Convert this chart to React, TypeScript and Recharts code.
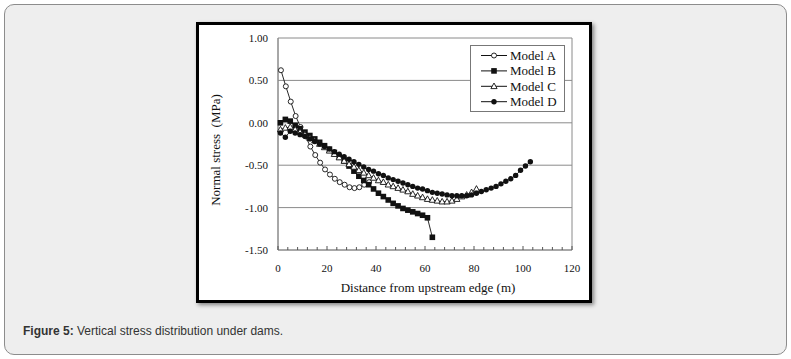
import { LineChart, Line, XAxis, YAxis, CartesianGrid } from "recharts";

// Model A (open circles)
const modelAX = [1.2, 3.2, 5.2, 7.2, 9.2, 11.2, 13.2, 15.2, 17.2, 19.2, 21.2, 23.2, 25.2, 27.2, 29.2, 31.2, 33.2, 35.2, 37.2];
const modelAY = [0.62, 0.43, 0.25, 0.08, -0.05, -0.16, -0.28, -0.38, -0.47, -0.55, -0.61, -0.66, -0.7, -0.73, -0.76, -0.77, -0.76, -0.73, -0.7];

// Model B (filled squares)
const modelBX = [1, 3, 5, 7, 9, 11, 13, 15, 17, 19, 21, 23, 25, 27, 29, 31, 33, 35, 37, 39, 41, 43, 45, 47, 49, 51, 53, 55, 57, 59, 61, 63];
const modelBY = [0.0, 0.04, 0.02, -0.03, -0.07, -0.11, -0.15, -0.19, -0.23, -0.27, -0.31, -0.35, -0.4, -0.45, -0.51, -0.57, -0.63, -0.68, -0.73, -0.78, -0.83, -0.87, -0.91, -0.95, -0.98, -1.01, -1.03, -1.05, -1.07, -1.09, -1.12, -1.35];

// Model C (open triangles)
const modelCX = [1, 3, 5, 7, 9, 11, 13, 15, 17, 19, 21, 23, 25, 27, 29, 31, 33, 35, 37, 39, 41, 43, 45, 47, 49, 51, 53, 55, 57, 59, 61, 63, 65, 67, 69, 71, 73, 75, 77, 79, 81];
const modelCY = [-0.08, -0.06, -0.05, -0.08, -0.11, -0.14, -0.18, -0.21, -0.25, -0.29, -0.33, -0.37, -0.41, -0.45, -0.49, -0.52, -0.56, -0.59, -0.62, -0.65, -0.68, -0.7, -0.73, -0.75, -0.77, -0.79, -0.81, -0.84, -0.86, -0.88, -0.9, -0.91, -0.92, -0.93, -0.93, -0.92, -0.9, -0.87, -0.85, -0.82, -0.78];

// Model D (filled circles)
const modelDX = [1, 3, 5, 7, 9, 11, 13, 15, 17, 19, 21, 23, 25, 27, 29, 31, 33, 35, 37, 39, 41, 43, 45, 47, 49, 51, 53, 55, 57, 59, 61, 63, 65, 67, 69, 71, 73, 75, 77, 79, 81, 83, 85, 87, 89, 91, 93, 95, 97, 99, 101, 103];
const modelDY = [-0.12, -0.17, -0.1, -0.12, -0.14, -0.16, -0.19, -0.22, -0.25, -0.28, -0.31, -0.34, -0.37, -0.4, -0.43, -0.46, -0.49, -0.52, -0.55, -0.57, -0.6, -0.62, -0.65, -0.67, -0.69, -0.71, -0.73, -0.75, -0.77, -0.78, -0.8, -0.82, -0.83, -0.84, -0.85, -0.86, -0.86, -0.86, -0.86, -0.85, -0.83, -0.81, -0.79, -0.77, -0.75, -0.72, -0.69, -0.66, -0.62, -0.56, -0.51, -0.46];

const xTicks = [0, 4, 8, 12, 16, 20, 24, 28, 32, 36, 40, 44, 48, 52, 56, 60, 64, 68, 72, 76, 80, 84, 88, 92, 96, 100, 104, 108, 112, 116, 120];
const xLabelTicks = [0, 20, 40, 60, 80, 100, 120];
const yTicks = [-1.5, -1.0, -0.5, 0.0, 0.5, 1.0];

const seriesNames = ["Model A", "Model B", "Model C", "Model D"];

const toPoints = (xs: number[], ys: number[]) => xs.map((x, i) => ({ x, y: ys[i] }));

const dataA = toPoints(modelAX, modelAY);
const dataB = toPoints(modelBX, modelBY);
const dataC = toPoints(modelCX, modelCY);
const dataD = toPoints(modelDX, modelDY);

const SERIF = "'Liberation Serif', 'Times New Roman', serif";
const INK = "#111";
const GRID = "#8a8a8a";

type Shape = "circleOpen" | "square" | "triangleOpen" | "circleFilled";

function Marker({ shape, cx, cy }: { shape: Shape; cx: number; cy: number }) {
  if (shape === "circleOpen") return <circle cx={cx} cy={cy} r={2.5} fill="#fff" stroke={INK} strokeWidth={0.9} />;
  if (shape === "circleFilled") return <circle cx={cx} cy={cy} r={2.7} fill={INK} />;
  if (shape === "square") return <rect x={cx - 2.8} y={cy - 2.8} width={5.6} height={5.6} fill={INK} />;
  return (
    <polygon
      points={`${cx},${cy - 3.3} ${cx - 3.1},${cy + 2.3} ${cx + 3.1},${cy + 2.3}`}
      fill="#fff"
      stroke={INK}
      strokeWidth={0.9}
    />
  );
}

const dotFor = (shape: Shape) => (props: any) => {
  const { cx, cy, index } = props;
  if (cx == null || cy == null) return <g key={`e-${shape}-${index}`} />;
  return (
    <g key={`${shape}-${index}`}>
      <Marker shape={shape} cx={cx} cy={cy} />
    </g>
  );
};

function XTick({ x, y, payload }: any) {
  const v = payload.value as number;
  const major = xLabelTicks.includes(v);
  return (
    <g>
      <line x1={x} x2={x} y1={y} y2={y - (major ? 4 : 3)} stroke="#555" strokeWidth={1} />
      {major && (
        <text x={x} y={y + 22} textAnchor="middle" fontFamily={SERIF} fontSize={11} fill={INK}>
          {v}
        </text>
      )}
    </g>
  );
}

const shapes: Shape[] = ["circleOpen", "square", "triangleOpen", "circleFilled"];

function LegendBox() {
  return (
    <svg width={95} height={67} style={{ display: "block" }}>
      <rect x={0.5} y={0.5} width={94} height={66} fill="#fff" stroke="#777" strokeWidth={1} />
      {seriesNames.map((name, i) => {
        const cy = 10.5 + i * 15.4;
        return (
          <g key={name}>
            <line x1={11} x2={37} y1={cy} y2={cy} stroke={INK} strokeWidth={1} />
            <Marker shape={shapes[i]} cx={24} cy={cy} />
            <text x={40} y={cy + 4.3} fontFamily={SERIF} fontSize={13} fill={INK}>
              {name}
            </text>
          </g>
        );
      })}
    </svg>
  );
}

export default function App() {
  return (
    <div style={{ position: "fixed", left: 0, top: 0, width: 791, height: 359, background: "#fff" }}>
      <div
        style={{
          position: "absolute",
          left: 4,
          top: 4,
          width: 781,
          height: 349,
          background: "#eeeeee",
          border: "1px solid #8c8c8c",
          borderRadius: 10,
        }}
      />
      <div
        style={{
          position: "absolute",
          left: 196,
          top: 22,
          width: 390,
          height: 275,
          background: "#fff",
          border: "3px solid #000",
          boxShadow: "2px 2px 4px rgba(0,0,0,0.45)",
        }}
      />
      <div style={{ position: "absolute", left: 196, top: 22 }}>
        <LineChart width={396} height={281} margin={{ top: 16, right: 20, bottom: 0, left: 0 }}>
          <CartesianGrid
            horizontal
            vertical
            stroke={GRID}
            strokeWidth={1}
            horizontalValues={yTicks}
            verticalCoordinatesGenerator={({ offset }: any) => [offset.left, offset.left + offset.width]}
          />
          <XAxis
            type="number"
            dataKey="x"
            domain={[0, 120]}
            ticks={xTicks}
            interval={0}
            height={53}
            tickSize={0}
            tickMargin={0}
            tickLine={false}
            axisLine={{ stroke: GRID }}
            tick={<XTick />}
            allowDuplicatedCategory={false}
            label={{
              content: ({ viewBox }: any) => (
                <text
                  x={viewBox.x + viewBox.width / 2 + 3}
                  y={viewBox.y + 42}
                  textAnchor="middle"
                  fontFamily={SERIF}
                  fontSize={13}
                  fill={INK}
                >
                  Distance from upstream edge (m)
                </text>
              ),
            }}
          />
          <YAxis
            type="number"
            domain={[-1.5, 1.0]}
            ticks={yTicks}
            interval={0}
            width={82}
            tickSize={8}
            tickMargin={2}
            tickLine={false}
            axisLine={{ stroke: GRID }}
            tickFormatter={(v: number) => v.toFixed(2)}
            tick={{ fontFamily: SERIF, fontSize: 11, fill: INK }}
            label={{
              content: ({ viewBox }: any) => {
                const cx = viewBox.x + 19;
                const cy = viewBox.y + viewBox.height / 2 + 6;
                return (
                  <text
                    x={cx}
                    y={cy}
                    transform={`rotate(-90 ${cx} ${cy})`}
                    textAnchor="middle"
                    dominantBaseline="central"
                    fontFamily={SERIF}
                    fontSize={13}
                    fill={INK}
                    style={{ whiteSpace: "pre" }}
                  >
                    {"Normal stress  (MPa)"}
                  </text>
                );
              },
            }}
          />
          <Line data={dataA} dataKey="y" name={seriesNames[0]} stroke={INK} strokeWidth={0.9} dot={dotFor("circleOpen")} isAnimationActive={false} />
          <Line data={dataB} dataKey="y" name={seriesNames[1]} stroke={INK} strokeWidth={0.9} dot={dotFor("square")} isAnimationActive={false} />
          <Line data={dataC} dataKey="y" name={seriesNames[2]} stroke={INK} strokeWidth={0.9} dot={dotFor("triangleOpen")} isAnimationActive={false} />
          <Line data={dataD} dataKey="y" name={seriesNames[3]} stroke={INK} strokeWidth={0.9} dot={dotFor("circleFilled")} isAnimationActive={false} />
        </LineChart>
      </div>
      <div style={{ position: "absolute", left: 470, top: 45 }}>
        <LegendBox />
      </div>
      <div
        style={{
          position: "absolute",
          left: 23,
          top: 324,
          fontFamily: "'Liberation Sans', Arial, sans-serif",
          fontSize: 12,
          color: "#333",
          whiteSpace: "nowrap",
        }}
      >
        <b>Figure 5:</b> Vertical stress distribution under dams.
      </div>
    </div>
  );
}
